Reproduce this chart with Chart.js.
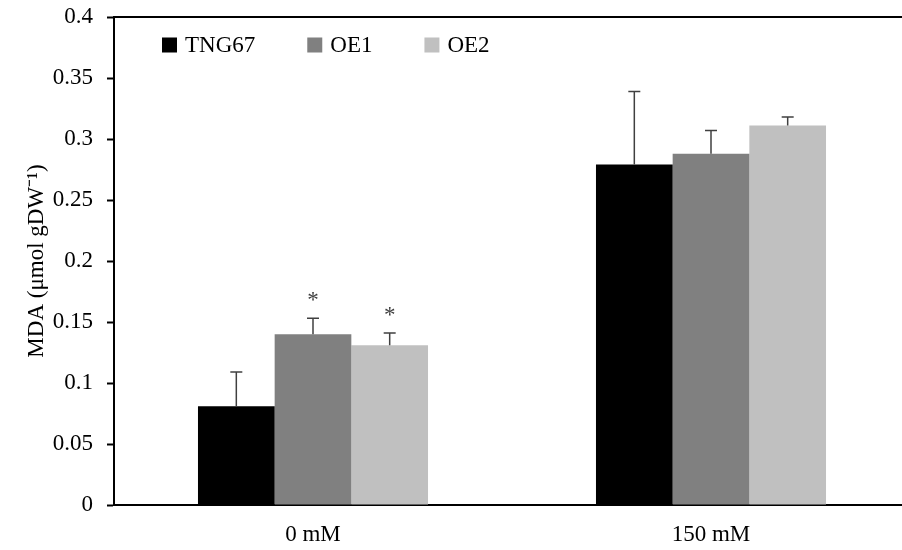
<!DOCTYPE html>
<html>
<head>
<meta charset="utf-8">
<script src="https://cdn.jsdelivr.net/npm/chart.js@4.4.1/dist/chart.umd.min.js"></script>
<style>
  html, body { margin: 0; padding: 0; background: #fff; overflow: hidden; }
  #wrap { width: 912px; height: 550px; }
</style>
</head>
<body>
<div id="wrap"><canvas id="grafico" width="912" height="550"></canvas></div>
<script>
// valores
const categorias = ['0 mM', '150 mM'];
const tng67 = [0.081, 0.279];
const tng67Erro = [0.028, 0.060];
const oe1 = [0.140, 0.288];
const oe1Erro = [0.013, 0.019];
const oe2 = [0.131, 0.311];
const oe2Erro = [0.010, 0.007];
const oe1Sig = [true, false];
const oe2Sig = [true, false];
const yTicks = [0, 0.05, 0.1, 0.15, 0.2, 0.25, 0.3, 0.35, 0.4];

const fonte = 'Liberation Serif, Times New Roman, serif';
const tam = 23;

const erros = [tng67Erro, oe1Erro, oe2Erro];
const sigs = [null, oe1Sig, oe2Sig];

// barras de erro, asteriscos, legenda e borda de cima
const extras = {
    id: 'extras',
    afterDatasetsDraw(chart) {
        const c = chart.ctx;
        const y = chart.scales.y;
        const area = chart.chartArea;
        c.save();
        chart.data.datasets.forEach(function (ds, i) {
            const meta = chart.getDatasetMeta(i);
            meta.data.forEach(function (bar, j) {
                const topo = y.getPixelForValue(ds.data[j] + erros[i][j]);
                c.strokeStyle = '#404040';
                c.lineWidth = 1.5;
                c.beginPath();
                c.moveTo(bar.x, bar.y);
                c.lineTo(bar.x, topo);
                c.moveTo(bar.x - 6, topo);
                c.lineTo(bar.x + 6, topo);
                c.stroke();
                if (sigs[i] && sigs[i][j]) {
                    c.fillStyle = '#404040';
                    c.font = tam + 'px ' + fonte;
                    c.textAlign = 'center';
                    c.textBaseline = 'alphabetic';
                    c.fillText('*', bar.x, topo - 11);
                }
            });
        });

        // borda superior
        c.strokeStyle = '#000';
        c.lineWidth = 2;
        c.beginPath();
        c.moveTo(area.left, area.top);
        c.lineTo(area.right, area.top);
        c.stroke();

        // legenda
        let x = area.left + 48;
        const yl = area.top + 28;
        c.font = tam + 'px ' + fonte;
        c.textAlign = 'left';
        c.textBaseline = 'middle';
        chart.data.datasets.forEach(function (ds) {
            c.fillStyle = ds.backgroundColor;
            c.fillRect(x, yl - 7.5, 15, 15);
            c.fillStyle = '#000';
            c.fillText(ds.label, x + 23, yl + 1);
            x += 23 + c.measureText(ds.label).width + 52;
        });
        c.restore();
    }
};

new Chart(document.getElementById('grafico'), {
    type: 'bar',
    data: {
        labels: categorias,
        datasets: [
            { label: 'TNG67', data: tng67, backgroundColor: '#000000' },
            { label: 'OE1', data: oe1, backgroundColor: '#808080' },
            { label: 'OE2', data: oe2, backgroundColor: '#c0c0c0' }
        ]
    },
    options: {
        responsive: false,
        animation: false,
        devicePixelRatio: 1,
        layout: { padding: { top: 17, right: 2, left: 0, bottom: 0 } },
        categoryPercentage: 0.578,
        barPercentage: 1.0,
        plugins: {
            legend: { display: false },
            tooltip: { enabled: false }
        },
        scales: {
            x: {
                grid: { display: false, drawTicks: false },
                border: { color: '#000', width: 2 },
                ticks: { color: '#000', font: { family: fonte, size: tam }, padding: 16 },
                afterFit(scale) { scale.height = 45; scale.paddingLeft = 0; scale.paddingRight = 0; }
            },
            y: {
                min: 0,
                max: 0.4,
                afterBuildTicks(scale) {
                    scale.ticks = yTicks.map(function (v) { return { value: v }; });
                },
                grid: { drawOnChartArea: false, drawTicks: true, tickLength: 7, tickColor: '#000', tickWidth: 2 },
                border: { color: '#000', width: 2 },
                ticks: {
                    color: '#000',
                    font: { family: fonte, size: tam },
                    padding: 14,
                    callback: function (v) { return String(Number(v.toFixed(2))); }
                },
                title: {
                    display: true,
                    text: 'MDA (μmol gDW⁻¹)',
                    color: '#000',
                    font: { family: fonte, size: tam },
                    padding: { top: 23, bottom: 0 }
                },
                afterFit(scale) { scale.width = 114; scale.paddingTop = 0; scale.paddingBottom = 0; }
            }
        }
    },
    plugins: [extras]
});
</script>
</body>
</html>
